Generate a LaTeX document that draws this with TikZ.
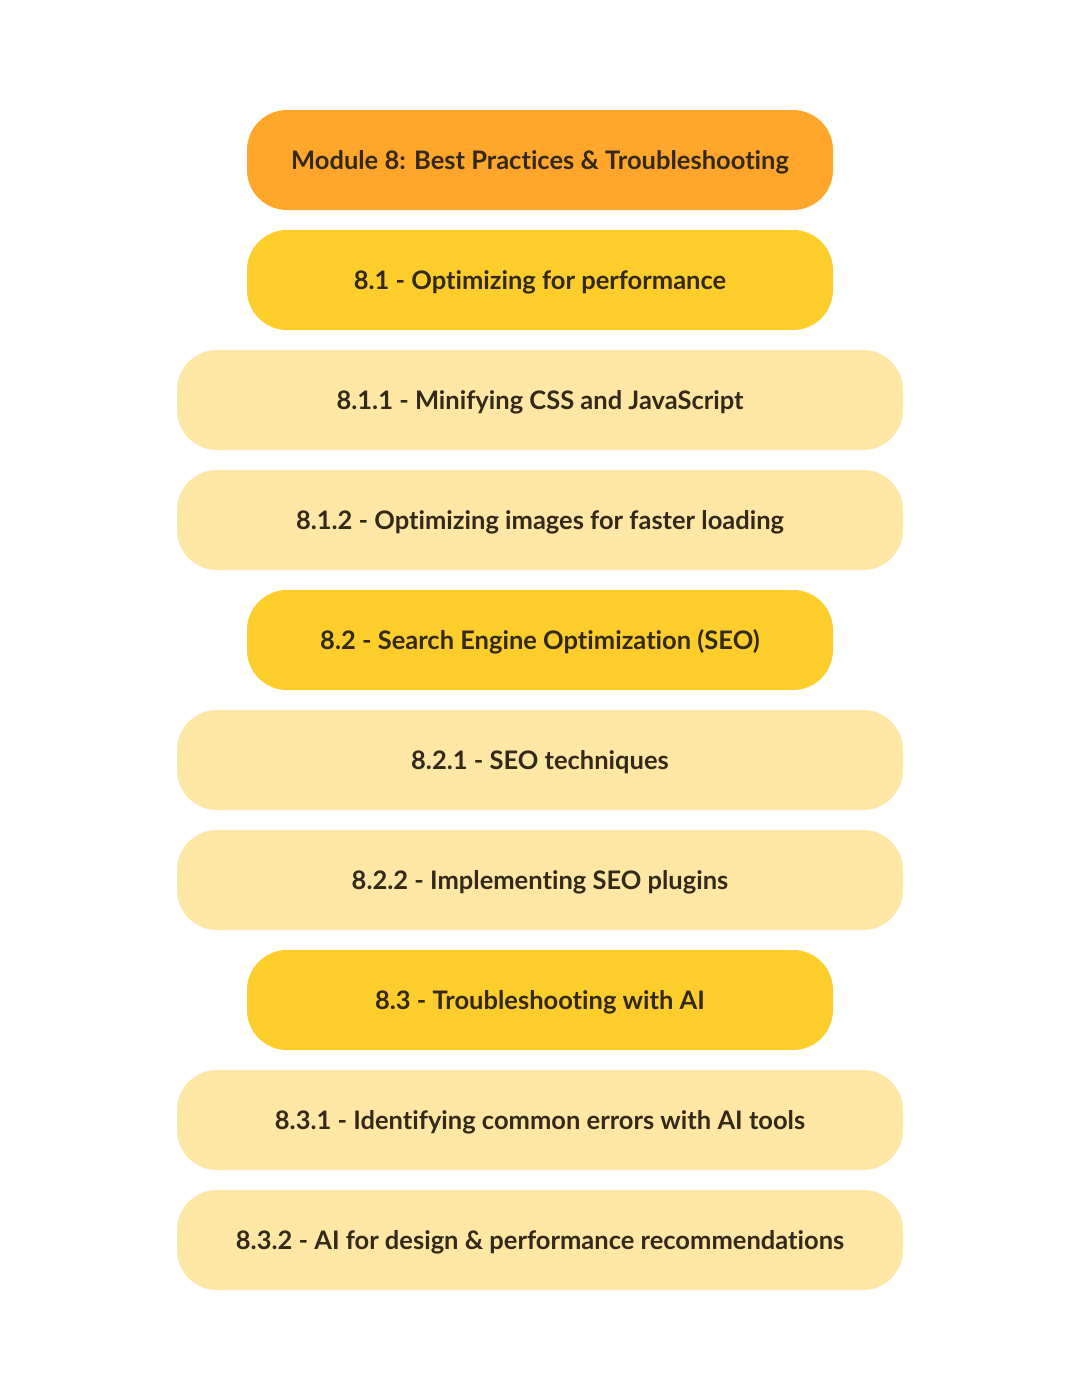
\documentclass[tikz,border=0pt]{standalone}
\usepackage{fontspec}
\setmainfont{Lato}[UprightFont=* Bold, Ligatures=NoCommon]
\definecolor{modorange}{HTML}{FFA62B}
\definecolor{secyellow}{HTML}{FDCD2B}
\definecolor{subcream}{HTML}{FEE6A4}
\definecolor{inkbrown}{HTML}{33291A}
\begin{document}
\begin{tikzpicture}[x=1pt,y=-1pt,
  pill/.style={rounded corners=40pt, inner sep=0pt, minimum height=100pt,
    text=inkbrown, font=\fontsize{25.5}{30}\selectfont,
    text height=18.4pt, text depth=0pt, anchor=center},
  modbox/.style={pill, fill=modorange, minimum width=586pt},
  secbox/.style={pill, fill=secyellow, minimum width=586pt},
  subbox/.style={pill, fill=subcream, minimum width=726pt}]
\useasboundingbox (0,0) rectangle (1080,1400);
\node[modbox] (m8)   at (540,160)  {Module 8: Best Practices \& Troubleshooting};
\node[secbox] (s81)  at (540,280)  {8.1 - Optimizing for performance};
\node[subbox] (s811) at (540,400)  {8.1.1 - Minifying CSS and JavaScript};
\node[subbox] (s812) at (540,520)  {8.1.2 - Optimizing images for faster loading};
\node[secbox] (s82)  at (540,640)  {8.2 - Search Engine Optimization (SEO)};
\node[subbox] (s821) at (540,760)  {8.2.1 - SEO techniques};
\node[subbox] (s822) at (540,880)  {8.2.2 - Implementing SEO plugins};
\node[secbox] (s83)  at (540,1000) {8.3 - Troubleshooting with AI};
\node[subbox] (s831) at (540,1120) {8.3.1 - Identifying common errors with AI tools};
\node[subbox] (s832) at (540,1240) {8.3.2 - AI for design \& performance recommendations};
\end{tikzpicture}
\end{document}
